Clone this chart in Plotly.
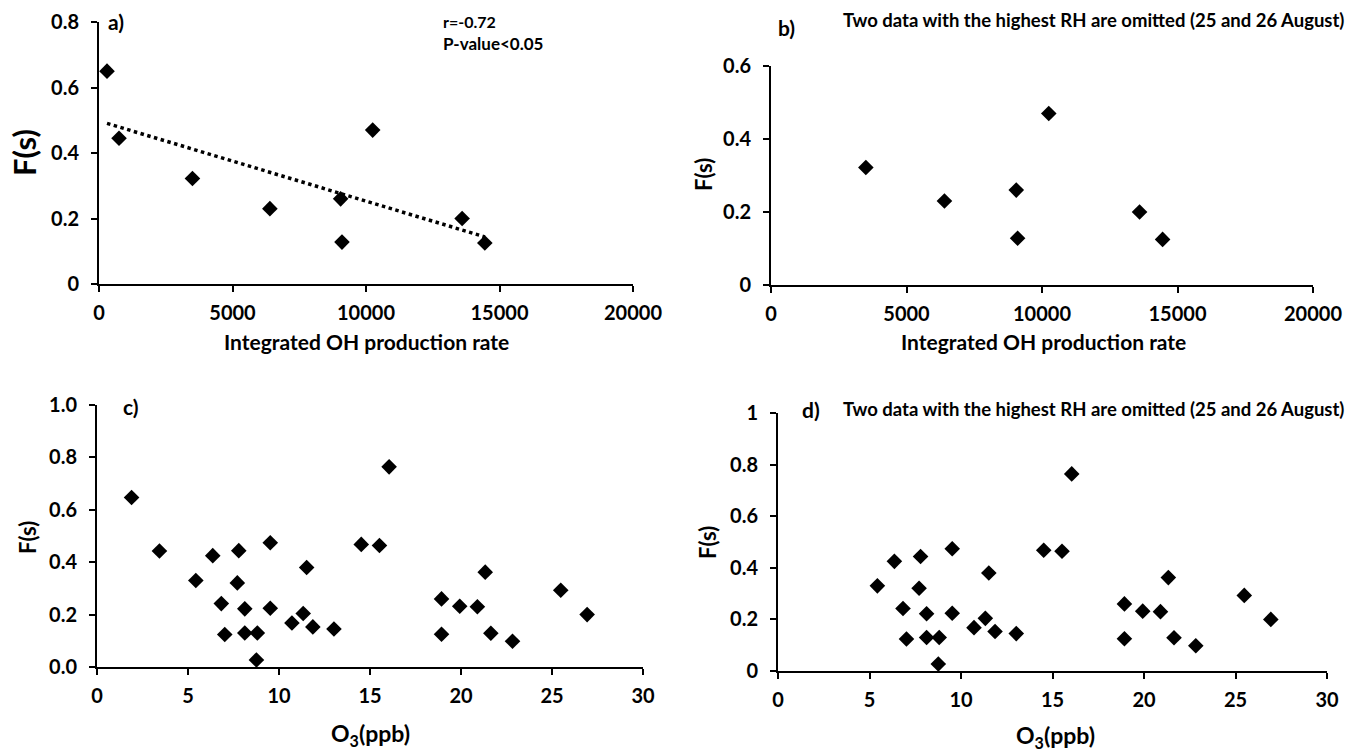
import numpy as np
import plotly.graph_objects as go

# ---------------- data ----------------
oh_rate_a = [300, 750, 3500, 6400, 9050, 9100, 10250, 13600, 14450]
fs_a = [0.65, 0.445, 0.322, 0.23, 0.26, 0.128, 0.47, 0.2, 0.125]

oh_rate_b = [3500, 6400, 9050, 9100, 10250, 13600, 14450]
fs_b = [0.322, 0.23, 0.26, 0.128, 0.47, 0.2, 0.125]

o3_c = [1.90, 3.43, 5.43, 6.36, 6.83, 7.02, 7.71, 7.79, 8.12, 8.12, 8.76, 8.81,
        9.52, 9.52, 10.71, 11.33, 11.52, 11.86, 13.02, 14.52, 15.52, 16.05,
        18.93, 18.93, 19.93, 20.90, 21.33, 21.64, 22.83, 25.48, 26.93]
fs_c = [0.647, 0.443, 0.330, 0.425, 0.242, 0.124, 0.321, 0.444, 0.222, 0.130, 0.027, 0.130,
        0.474, 0.224, 0.168, 0.204, 0.380, 0.153, 0.145, 0.468, 0.464, 0.764,
        0.260, 0.125, 0.232, 0.230, 0.362, 0.129, 0.098, 0.293, 0.200]

o3_d = o3_c[2:]
fs_d = fs_c[2:]

title_omit = "Two data with the highest RH are omitted (25 and 26 August)"

W, H = 1351, 754
FONT = "Lato"

def px(x):
    return x / W

def py(y):
    return 1 - y / H

fig = go.Figure()

marker = dict(symbol="diamond", color="black", size=12, line=dict(width=0))

fig.add_trace(go.Scatter(x=oh_rate_a, y=fs_a, mode="markers", marker=marker,
                         xaxis="x", yaxis="y", cliponaxis=False, showlegend=False))
# linear trendline through panel a data
coef = np.polyfit(oh_rate_a, fs_a, 1)
tx = [min(oh_rate_a), max(oh_rate_a)]
ty = [coef[0] * v + coef[1] for v in tx]
fig.add_trace(go.Scatter(x=tx, y=ty, mode="lines", line=dict(color="black", width=3.5, dash="dot"),
                         xaxis="x", yaxis="y", showlegend=False))

fig.add_trace(go.Scatter(x=oh_rate_b, y=fs_b, mode="markers", marker=marker,
                         xaxis="x2", yaxis="y2", cliponaxis=False, showlegend=False))
fig.add_trace(go.Scatter(x=o3_c, y=fs_c, mode="markers", marker=marker,
                         xaxis="x3", yaxis="y3", cliponaxis=False, showlegend=False))
fig.add_trace(go.Scatter(x=o3_d, y=fs_d, mode="markers", marker=marker,
                         xaxis="x4", yaxis="y4", cliponaxis=False, showlegend=False))

tickfont = dict(family=FONT, size=20, color="black", weight="bold")

def xax(domain, rng, dtick, anchor, fmt=None):
    d = dict(domain=domain, range=rng, dtick=dtick, tick0=0, anchor=anchor,
             showline=True, linecolor="black", linewidth=2, ticks="outside",
             ticklen=6, tickwidth=2, tickcolor="black", showgrid=False, zeroline=False,
             tickfont=tickfont, ticklabelstandoff=4, fixedrange=True, automargin=False)
    if fmt:
        d["tickformat"] = fmt
    return d

def yax(domain, rng, dtick, anchor, fmt=None):
    d = dict(domain=domain, range=rng, dtick=dtick, tick0=0, anchor=anchor,
             showline=True, linecolor="black", linewidth=2, ticks="outside",
             ticklen=6, tickwidth=2, tickcolor="black", showgrid=False, zeroline=False,
             tickfont=tickfont, ticklabelstandoff=8, fixedrange=True, automargin=False)
    if fmt:
        d["tickformat"] = fmt
    return d

fig.update_layout(
    template="none",
    width=W, height=H, margin=dict(l=0, r=0, t=0, b=0, pad=0, autoexpand=False),
    paper_bgcolor="white", plot_bgcolor="white",
    xaxis=xax([px(99), px(633)], [0, 20000], 5000, "y", "d"),
    yaxis=yax([py(284), py(22)], [0, 0.8], 0.2, "x"),
    xaxis2=xax([px(771), px(1313)], [0, 20000], 5000, "y2", "d"),
    yaxis2=yax([py(285), py(66)], [0, 0.6], 0.2, "x2"),
    xaxis3=xax([px(97), px(643)], [0, 30], 5, "y3"),
    yaxis3=yax([py(667), py(405)], [0, 1.0], 0.2, "x3", ".1f"),
    xaxis4=xax([px(778), px(1327)], [0, 30], 5, "y4"),
    yaxis4=yax([py(671), py(413)], [0, 1.0], 0.2, "x4"),
)

def ann(text, x, y, size, xanchor="center", angle=0):
    fig.add_annotation(text=text, x=px(x), y=py(y), xref="paper", yref="paper",
                       xanchor=xanchor, yanchor="middle", showarrow=False, textangle=angle,
                       font=dict(family=FONT, size=size, color="black", weight="bold"))

# panel labels and notes
ann("a)", 106, 22, 21, "left")
ann("r=-0.72", 441, 21, 16, "left")
ann("P-value<0.05", 441, 44, 17, "left")
ann("b)", 776, 27, 21, "left")
ann(title_omit, 1346, 20, 18.5, "right")
ann("c)", 121, 406, 21, "left")
ann("d)", 800, 409, 21, "left")
ann(title_omit, 1346, 409, 18.5, "right")

# axis titles
ann("F(s)", 24, 153, 31, "center", -90)
ann("F(s)", 703, 175, 22, "center", -90)
ann("F(s)", 27, 537, 22, "center", -90)
ann("F(s)", 707, 543, 22, "center", -90)
ann("Integrated OH production rate", 366, 341, 21)
ann("Integrated OH production rate", 1043, 341, 21)
ann("O<sub>3</sub>(ppb)", 370, 734, 23)
ann("O<sub>3</sub>(ppb)", 1055, 736, 23)

fig.write_html("out.html")
